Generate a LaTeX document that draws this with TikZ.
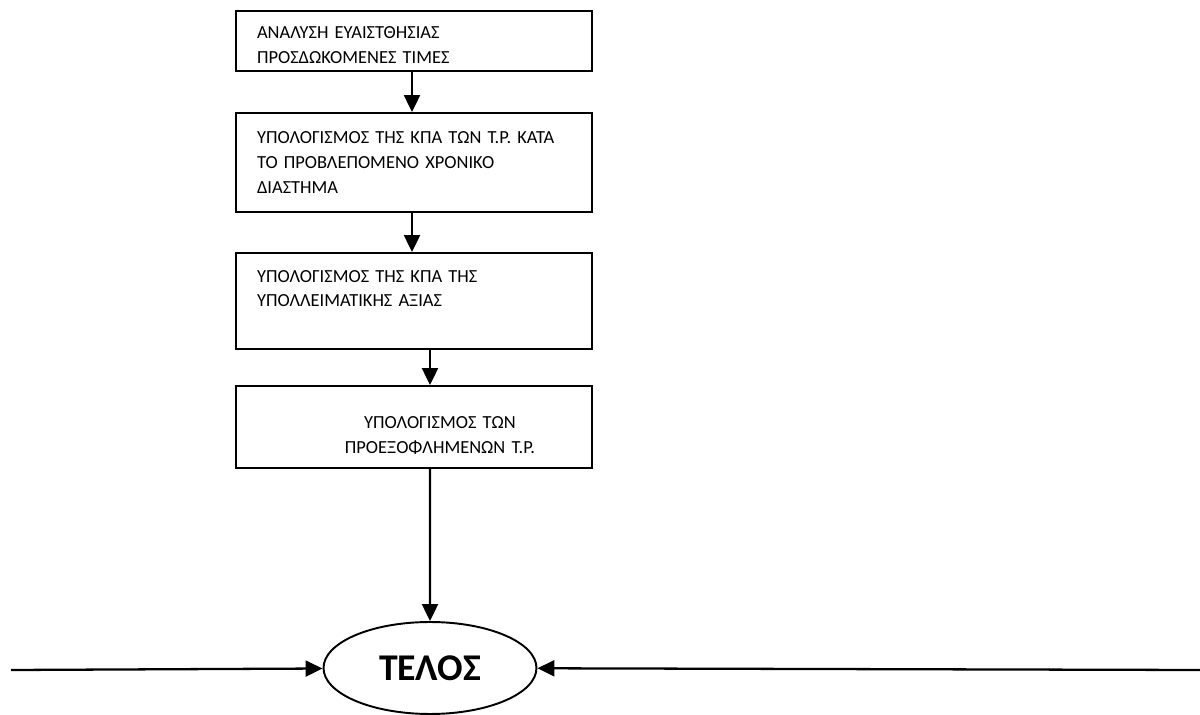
\documentclass[tikz,border=0pt]{standalone}
\usepackage{fontspec}
\setmainfont{Carlito}
\usetikzlibrary{shapes.geometric,arrows.meta,positioning}
\tikzstyle{stepbox}=[draw, line width=1.1pt, minimum width=7.12cm, text width=6.28cm, inner xsep=0.42cm, align=left, font=\fontsize{10.5}{14.2}\selectfont]
\tikzstyle{finish}=[ellipse, draw, line width=1.1pt, minimum width=4.26cm, minimum height=1.84cm, inner sep=0pt, font=\fontsize{21.5}{24}\selectfont\bfseries]
\tikzstyle{flow}=[-{Triangle[width=3.2mm,length=3.4mm]}, line width=1.3pt]
\tikzset{y=-0.02cm}
\tikzset{x=0.02cm}

\begin{document}
\begin{tikzpicture}
  \useasboundingbox (0,0) rectangle (1200,715);
  %% Steps
  \draw (414,41) node[stepbox,minimum height=1.2cm] (S1) {\rule{0pt}{11pt}ΑΝΑΛΥΣΗ ΕΥΑΙΣΤΘΗΣΙΑΣ\\ΠΡΟΣΔΩΚΟΜΕΝΕΣ ΤΙΜΕΣ};
  \draw (414,162.5) node[stepbox,minimum height=1.98cm] (S2) {ΥΠΟΛΟΓΙΣΜΟΣ ΤΗΣ ΚΠΑ ΤΩΝ Τ.Ρ. ΚΑΤΑ\\ΤΟ ΠΡΟΒΛΕΠΟΜΕΝΟ ΧΡΟΝΙΚΟ\\ΔΙΑΣΤΗΜΑ};
  \draw (414,301) node[stepbox,minimum height=1.92cm] (S3) {ΥΠΟΛΟΓΙΣΜΟΣ ΤΗΣ ΚΠΑ ΤΗΣ\\ΥΠΟΛΛΕΙΜΑΤΙΚΗΣ ΑΞΙΑΣ\\\mbox{}};
  \draw (414,427) node[stepbox,minimum height=1.64cm,align=center] (S4) {\rule{0pt}{16pt}\hspace*{1.04cm}ΥΠΟΛΟΓΙΣΜΟΣ ΤΩΝ\\\hspace*{1.04cm}ΠΡΟΕΞΟΦΛΗΜΕΝΩΝ Τ.Ρ.};

  %% End
  \draw (430,668) node[finish] (End) {ΤΕΛΟΣ};
  \coordinate (Lin) at (11,670);
  \coordinate (Rin) at (1200,670);

  %% Arrows
  \draw[flow] ([xshift=-0.04cm]S1.south) -- ([xshift=-0.04cm]S2.north);
  \draw[flow] ([xshift=-0.04cm]S2.south) -- ([xshift=-0.04cm]S3.north);
  \draw[flow] ([xshift=0.32cm]S3.south) -- ([xshift=0.32cm]S4.north);
  \draw[flow] ([xshift=0.32cm]S4.south) -- (End.north);
  \draw[flow] (Lin) -- (End);
  \draw[flow] (Rin) -- (End);
\end{tikzpicture}
\end{document}
